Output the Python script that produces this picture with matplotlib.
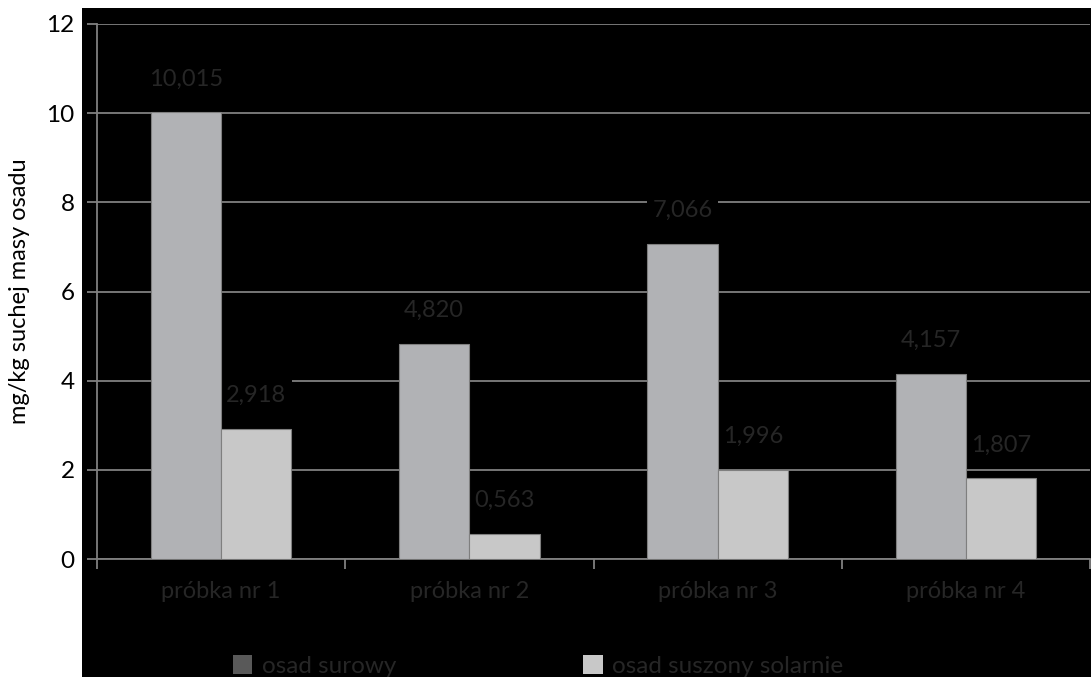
import numpy as np
import matplotlib
matplotlib.use('Agg')
import matplotlib.pyplot as plt
from matplotlib.patches import Rectangle

plt.rcParams['font.family'] = ['Lato', 'DejaVu Sans']

categories = ['próbka nr 1', 'próbka nr 2', 'próbka nr 3', 'próbka nr 4']
surowy = [10.015, 4.820, 7.066, 4.157]
solarnie = [2.918, 0.563, 1.996, 1.807]
series_names = ['osad surowy', 'osad suszony solarnie']
yticks = [0, 2, 4, 6, 8, 10, 12]

W, H = 1091, 677
fig = plt.figure(figsize=(W / 100, H / 100), dpi=100)
fig.patch.set_facecolor('white')

# black panel behind the chart
fig.patches.append(Rectangle((82 / W, 0), 1 - 82 / W, (H - 8) / H,
                             transform=fig.transFigure, facecolor='black',
                             edgecolor='none', zorder=-1))

ax = fig.add_axes([97 / W, (H - 559) / H, (1090 - 97) / W, (559 - 24) / H])
ax.set_facecolor('none')

x = np.arange(len(categories))
w = 0.283
b1 = ax.bar(x - w / 2, surowy, w, color='#b1b2b5', edgecolor='#7f7f7f', linewidth=0.8, zorder=3)
b2 = ax.bar(x + w / 2, solarnie, w, color='#c8c8c8', edgecolor='#7f7f7f', linewidth=0.8, zorder=3)

# value labels: black box hides the gridlines but stays under the bars
label_color = '#262626'
for bars, vals in [(b1, surowy), (b2, solarnie)]:
    for rect, v in zip(bars, vals):
        ax.annotate(f'{v:.3f}'.replace('.', ','),
                    (rect.get_x() + rect.get_width() / 2, v),
                    xytext=(0, 24), textcoords='offset points',
                    ha='center', va='center', fontsize=17, color=label_color,
                    bbox=dict(facecolor='black', edgecolor='none', pad=4),
                    zorder=2)

ax.set_ylim(0, 12)
ax.set_xlim(-0.5, 3.5)
ax.set_yticks(yticks)
ax.set_yticklabels([str(t) for t in yticks], fontsize=17.5, color='black')
ax.yaxis.grid(True, color='#808080', linewidth=1.3, zorder=1)
ax.set_axisbelow(True)
ax.tick_params(axis='y', length=7, color='#808080', width=1.3, pad=9)

ax.set_xticks(x)
ax.set_xticklabels(categories, fontsize=17, color=label_color)
ax.set_xticks(np.arange(-0.5, 4, 1), minor=True)
ax.tick_params(axis='x', which='major', length=0, pad=16)
ax.tick_params(axis='x', which='minor', length=7, color='#808080', width=1.3)

for s in ['top', 'right']:
    ax.spines[s].set_visible(False)
for s in ['left', 'bottom']:
    ax.spines[s].set_color('#808080')
    ax.spines[s].set_linewidth(1.3)

ax.set_ylabel('mg/kg suchej masy osadu', fontsize=17, color='black', labelpad=12)

h1 = Rectangle((0, 0), 1, 1, facecolor='#595959')
h2 = Rectangle((0, 0), 1, 1, facecolor='#c8c8c8')
fig.legend([h1, h2], series_names, loc='center', bbox_to_anchor=(538 / W, (H - 666) / H),
           ncol=2, frameon=False, fontsize=17.5, labelcolor=label_color,
           handlelength=0.8, handleheight=0.8, handletextpad=0.4, columnspacing=7.7)

fig.savefig('out.png', dpi=100, facecolor=fig.get_facecolor())
